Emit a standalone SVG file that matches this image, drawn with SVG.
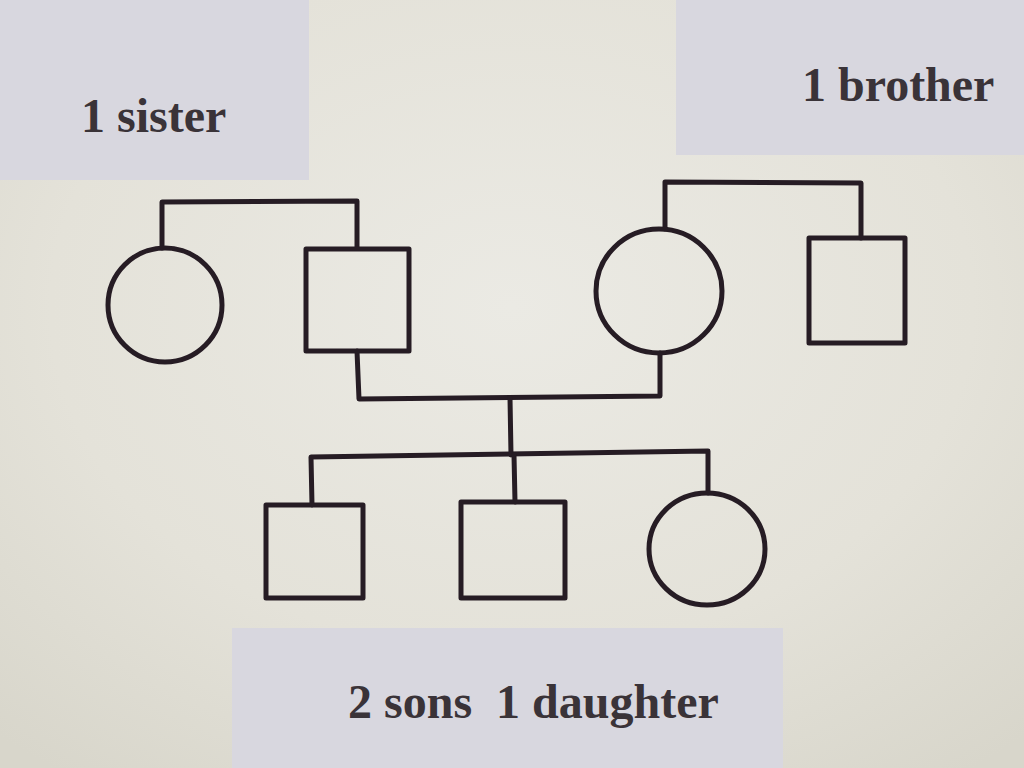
<svg xmlns="http://www.w3.org/2000/svg" width="1024" height="768" viewBox="0 0 1024 768">
<defs>
<radialGradient id="bg" cx="0.5" cy="0.4" r="0.75">
<stop offset="0" stop-color="#ebeae4"/>
<stop offset="0.6" stop-color="#e4e2d9"/>
<stop offset="1" stop-color="#d8d6cb"/>
</radialGradient>
<style>
.sym{fill:none;stroke:#261c24;stroke-width:5;stroke-linejoin:round;stroke-linecap:round}
.con{fill:none;stroke:#261c24;stroke-width:5;stroke-linejoin:round;stroke-linecap:round}
.panel{fill:#d8d7df}
.lbl{font-family:"Liberation Serif","Times New Roman",serif;font-weight:bold;font-size:48px;fill:#3a3338}
</style>
</defs>
<rect width="1024" height="768" fill="url(#bg)"/>
<g id="label-sister">
<rect class="panel" x="0" y="0" width="309" height="180"/>
<text class="lbl" x="81" y="132">1 sister</text>
</g>
<g id="label-brother">
<rect class="panel" x="676" y="0" width="348" height="155"/>
<text class="lbl" x="802" y="101">1 brother</text>
</g>
<g id="label-children">
<rect class="panel" x="232" y="628" width="551" height="140"/>
<text class="lbl" x="348" y="718" xml:space="preserve">2 sons  1 daughter</text>
</g>
<g id="connectors">
<polyline class="con" points="162,248 162,202 357,201 357,248"/>
<polyline class="con" points="665,229 665,182 861,183 861,238"/>
<polyline class="con" points="357,351 359,399 660,396 660,353"/>
<line class="con" x1="510" y1="398" x2="511" y2="455"/>
<polyline class="con" points="312,505 311,457 708,451 708,493"/>
<line class="con" x1="514" y1="455" x2="515" y2="502"/>
</g>
<g id="aunt"><circle class="sym" cx="165" cy="305" r="57"/></g>
<g id="father"><rect class="sym" x="306" y="249" width="103" height="102"/></g>
<g id="mother"><ellipse class="sym" cx="659" cy="291" rx="63" ry="62"/></g>
<g id="uncle"><rect class="sym" x="809" y="238" width="96" height="105"/></g>
<g id="son1"><rect class="sym" x="266" y="505" width="97" height="93"/></g>
<g id="son2"><rect class="sym" x="461" y="502" width="104" height="96"/></g>
<g id="daughter"><ellipse class="sym" cx="707" cy="549" rx="58" ry="56"/></g>
</svg>
